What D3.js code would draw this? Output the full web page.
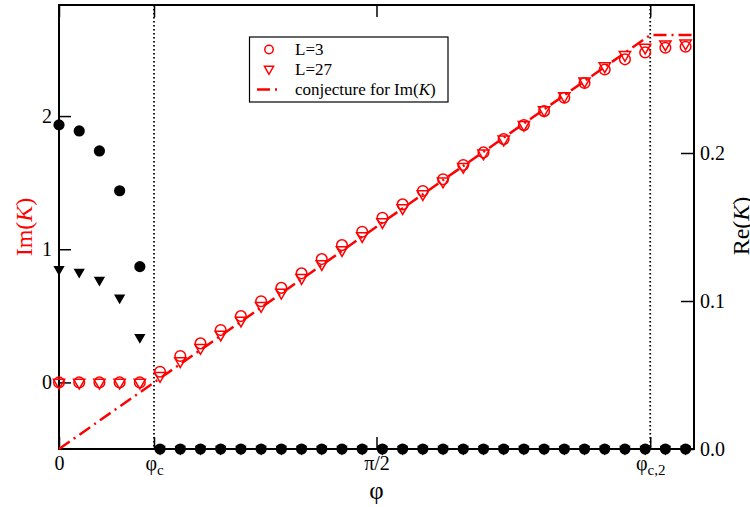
<!DOCTYPE html>
<html>
<head>
<meta charset="utf-8">
<script src="https://cdn.jsdelivr.net/npm/d3@7"></script>
<style>
  body { margin: 0; background: #fff; }
  svg text { font-family: "Liberation Serif", "DejaVu Serif", serif; }
</style>
</head>
<body>
<div id="viz"></div>
<script>
// phi values (radians)
var phi = [0.0, 0.1, 0.2, 0.3, 0.4, 0.5, 0.6, 0.7, 0.8, 0.9, 1.0, 1.1, 1.2, 1.3, 1.4, 1.5,
           1.6, 1.7, 1.8, 1.9, 2.0, 2.1, 2.2, 2.3, 2.4, 2.5, 2.6, 2.7, 2.8, 2.9, 3.0, 3.1];

// Im(K), left axis
var imL3  = [0, 0, 0, 0, 0, 0.080, 0.198, 0.293, 0.393, 0.498, 0.610, 0.710, 0.819, 0.926, 1.031, 1.131,
             1.236, 1.337, 1.437, 1.525, 1.632, 1.727, 1.827, 1.932, 2.037, 2.137, 2.248, 2.350, 2.426, 2.478, 2.513, 2.520];
var imL27 = [0, 0, 0, 0, 0, 0.050, 0.160, 0.260, 0.360, 0.465, 0.575, 0.675, 0.785, 0.890, 0.995, 1.100,
             1.205, 1.310, 1.415, 1.510, 1.620, 1.720, 1.825, 1.935, 2.045, 2.150, 2.262, 2.375, 2.460, 2.515, 2.540, 2.546];

// Re(K), right axis
var reL3  = [0.219, 0.2149, 0.2014, 0.1745, 0.1232, 0, 0, 0, 0, 0, 0, 0, 0, 0, 0, 0,
             0, 0, 0, 0, 0, 0, 0, 0, 0, 0, 0, 0, 0, 0, 0, 0];
var reL27 = [0.1214, 0.1196, 0.1142, 0.1022, 0.0755, 0, 0, 0, 0, 0, 0, 0, 0, 0, 0, 0,
             0, 0, 0, 0, 0, 0, 0, 0, 0, 0, 0, 0, 0, 0, 0, 0];

// conjecture for Im(K)
var conjPhi = [0, 2.925, Math.PI];
var conjIm  = [-0.5, 2.608, 2.608];

var phiC = 0.47, phiC2 = 2.925;
var xTicks = [0, phiC, Math.PI / 2, phiC2];
var xTickLabels = [["0", ""], ["φ", "c"], ["π/2", ""], ["φ", "c,2"]];
var legTexts = ["L=3", "L=27"];

var W = 750, H = 507;
var pL = 59, pR = 694, pT = 5, pB = 449;
var red = "#ff0000";
var serif = "'Liberation Serif', 'DejaVu Serif', serif";

var svg = d3.select("#viz").append("svg")
    .attr("width", W).attr("height", H)
    .attr("font-family", serif);

var x = d3.scaleLinear().domain([0, Math.PI]).range([pL, pR]);
var yIm = d3.scaleLinear().domain([-0.5, 2.834]).range([pB, pT]);
var yRe = d3.scaleLinear().domain([0, 0.3]).range([pB, pT]);

// dotted vertical lines at phi_c and phi_c,2
[phiC, phiC2].forEach(function(v){
    svg.append("line")
        .attr("x1", x(v)).attr("x2", x(v))
        .attr("y1", pT).attr("y2", pB)
        .attr("stroke", "black").attr("stroke-width", 1.8)
        .attr("stroke-dasharray", "1.6,2.4");
});

// left axis (Im)
var gL = svg.append("g").attr("transform", "translate(" + pL + ",0)");
gL.call(d3.axisLeft(yIm).tickValues([-0.5, 0.5, 1.5, 2.5]).tickSize(-7).tickFormat(""));
gL.call(d3.axisLeft(yIm).tickValues([0, 1, 2]).tickSize(-12).tickPadding(7).tickFormat(d3.format("d")));

// right axis (Re)
var gR = svg.append("g").attr("transform", "translate(" + pR + ",0)");
gR.call(d3.axisRight(yRe).tickValues([0.05, 0.15, 0.25]).tickSize(-7).tickFormat(""));
gR.call(d3.axisRight(yRe).tickValues([0, 0.1, 0.2]).tickSize(-13).tickPadding(6).tickFormat(d3.format(".1f")));

// bottom axis
var gB = svg.append("g").attr("transform", "translate(0," + pB + ")");
gB.call(d3.axisBottom(x).tickValues(xTicks).tickSize(-12).tickPadding(7).tickFormat(""));
gB.selectAll(".tick text").each(function(d, i){
    var t = d3.select(this);
    t.append("tspan").text(xTickLabels[i][0]);
    if (xTickLabels[i][1] != "")
        t.append("tspan").attr("class", "sub").attr("dy", "0.3em").text(xTickLabels[i][1]);
});

// top axis mirror ticks
var gT = svg.append("g").attr("transform", "translate(0," + pT + ")");
gT.call(d3.axisTop(x).tickValues(xTicks).tickSize(-12).tickFormat(""));

svg.selectAll(".domain").remove();
svg.selectAll(".tick line").attr("stroke", "black").attr("stroke-width", 1.5);
svg.selectAll(".tick text")
    .attr("fill", "black")
    .attr("font-family", serif)
    .attr("font-size", 20);
gB.selectAll(".tick text .sub").attr("font-size", 15);

// frame
svg.append("rect")
    .attr("x", pL).attr("y", pT)
    .attr("width", pR - pL).attr("height", pB - pT)
    .attr("fill", "none").attr("stroke", "black").attr("stroke-width", 2);

// conjecture line
var line = d3.line()
    .x(function(d){ return x(d[0]); })
    .y(function(d){ return yIm(d[1]); });
svg.append("path")
    .datum(d3.zip(conjPhi, conjIm))
    .attr("d", line)
    .attr("fill", "none").attr("stroke", red).attr("stroke-width", 2.5)
    .attr("stroke-dasharray", "13,5,2,5");

var tri = d3.symbol().type(d3.symbolTriangle).size(55);

// Re(K) points (black)
svg.append("g").selectAll("path")
    .data(d3.zip(phi, reL27))
    .enter().append("path")
    .attr("d", tri)
    .attr("transform", function(d){ return "translate(" + x(d[0]) + "," + yRe(d[1]) + ") rotate(180)"; })
    .attr("fill", "black");
svg.append("g").selectAll("circle")
    .data(d3.zip(phi, reL3))
    .enter().append("circle")
    .attr("cx", function(d){ return x(d[0]); })
    .attr("cy", function(d){ return yRe(d[1]); })
    .attr("r", 5.6)
    .attr("fill", "black");

// Im(K) points (red, open)
svg.append("g").selectAll("circle")
    .data(d3.zip(phi, imL3))
    .enter().append("circle")
    .attr("cx", function(d){ return x(d[0]); })
    .attr("cy", function(d){ return yIm(d[1]); })
    .attr("r", 5.3)
    .attr("fill", "none").attr("stroke", red).attr("stroke-width", 1.5);
svg.append("g").selectAll("path")
    .data(d3.zip(phi, imL27))
    .enter().append("path")
    .attr("d", tri)
    .attr("transform", function(d){ return "translate(" + x(d[0]) + "," + yIm(d[1]) + ") rotate(180)"; })
    .attr("fill", "none").attr("stroke", red).attr("stroke-width", 1.5);

// axis titles
svg.append("text")
    .attr("transform", "translate(32,227) rotate(-90)")
    .attr("text-anchor", "middle")
    .attr("fill", red)
    .attr("font-size", 24)
    .html("Im(<tspan font-style='italic'>K</tspan>)");
svg.append("text")
    .attr("transform", "translate(749,226) rotate(-90)")
    .attr("text-anchor", "middle")
    .attr("fill", "black")
    .attr("font-size", 24)
    .html("Re(<tspan font-style='italic'>K</tspan>)");
svg.append("text")
    .attr("x", x(Math.PI / 2)).attr("y", 499)
    .attr("text-anchor", "middle")
    .attr("font-size", 25)
    .text("φ");

// legend
var lg = svg.append("g");
lg.append("rect")
    .attr("x", 249.5).attr("y", 37)
    .attr("width", 198.5).attr("height", 65)
    .attr("fill", "white").attr("stroke", "black").attr("stroke-width", 1.2);
lg.append("circle")
    .attr("cx", 269).attr("cy", 49.5).attr("r", 4.2)
    .attr("fill", "none").attr("stroke", red).attr("stroke-width", 1.5);
lg.append("path")
    .attr("d", d3.symbol().type(d3.symbolTriangle).size(36))
    .attr("transform", "translate(269,69) rotate(180)")
    .attr("fill", "none").attr("stroke", red).attr("stroke-width", 1.5);
lg.append("line")
    .attr("x1", 257).attr("x2", 282).attr("y1", 89.5).attr("y2", 89.5)
    .attr("stroke", red).attr("stroke-width", 2.5)
    .attr("stroke-dasharray", "13,5,2,5");
lg.append("text").attr("x", 295).attr("y", 55).attr("font-size", 17).text(legTexts[0]);
lg.append("text").attr("x", 295).attr("y", 74.5).attr("font-size", 17).text(legTexts[1]);
lg.append("text").attr("x", 295).attr("y", 94.5).attr("font-size", 17)
    .html("conjecture for Im(<tspan font-style='italic'>K</tspan>)");
</script>
</body>
</html>
